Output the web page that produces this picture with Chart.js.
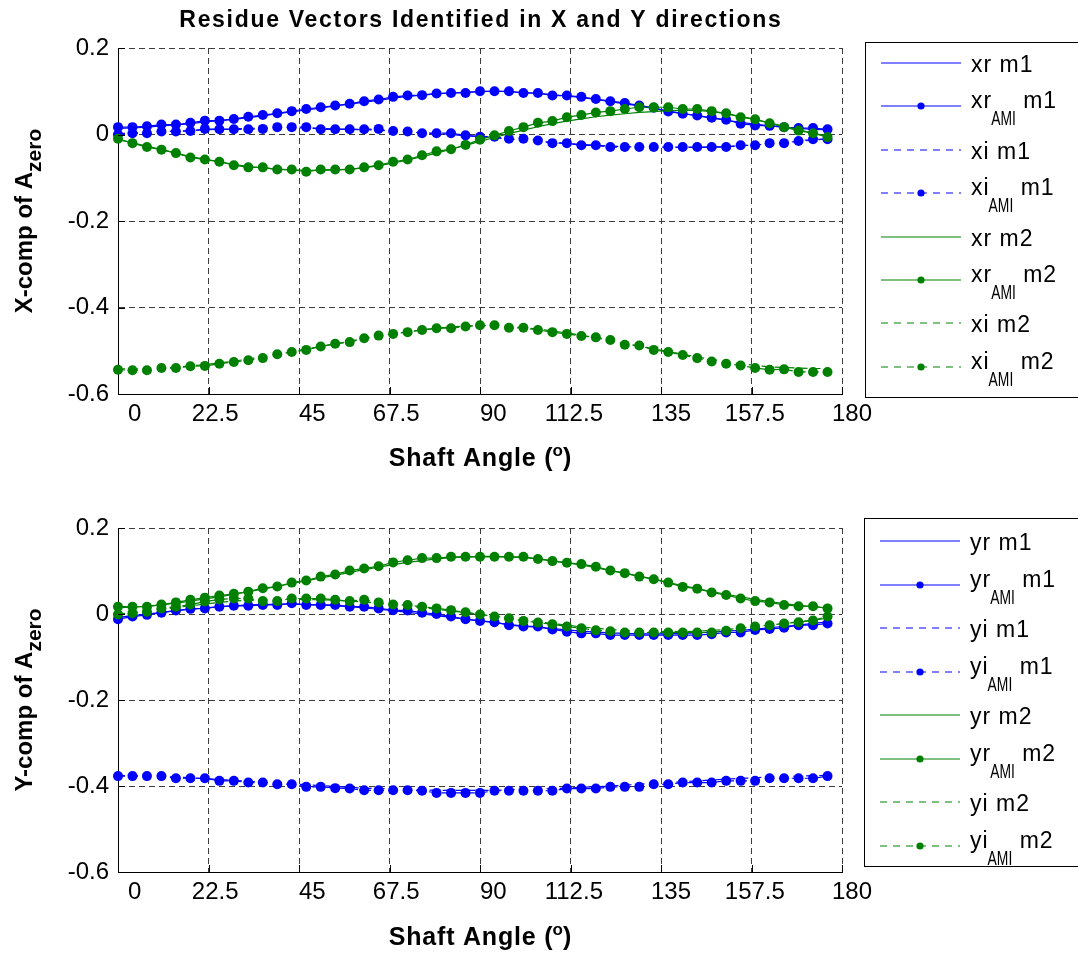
<!DOCTYPE html>
<html>
<head>
<meta charset="utf-8">
<title>Residue Vectors Identified in X and Y directions</title>
<script src="https://cdn.jsdelivr.net/npm/chart.js@4.4.1/dist/chart.umd.min.js"></script>
<style>
  html, body { margin: 0; padding: 0; background: #fff; }
  #wrap { position: relative; width: 1078px; height: 953px; overflow: hidden; }
  canvas { position: absolute; left: 0; }
</style>
</head>
<body>
<div id="wrap">
  <canvas id="xChart" width="1078" height="476" style="top:0px"></canvas>
  <canvas id="yChart" width="1078" height="477" style="top:476px"></canvas>
</div>
<script>
// shaft angle (deg) of each identification step
const angles = [0, 3.6, 7.2, 10.8, 14.4, 18, 21.6, 25.2, 28.8, 32.4, 36, 39.6, 43.2, 46.8, 50.4,
  54, 57.6, 61.2, 64.8, 68.4, 72, 75.6, 79.2, 82.8, 86.4, 90, 93.6, 97.2, 100.8, 104.4, 108,
  111.6, 115.2, 118.8, 122.4, 126, 129.6, 133.2, 136.8, 140.4, 144, 147.6, 151.2, 154.8,
  158.4, 162, 165.6, 169.2, 172.8, 176.4];

const xTicks = [0, 22.5, 45, 67.5, 90, 112.5, 135, 157.5, 180];
const xTickLabels = ['0', '22.5', '45', '67.5', '90', '112.5', '135', '157.5', '180'];
const yTicks = [-0.6, -0.4, -0.2, 0, 0.2];
const yTickLabels = ['-0.6', '-0.4', '-0.2', '0', '0.2'];

// X-direction residues
const xrM1 = [0.014, 0.015, 0.017, 0.020, 0.022, 0.025, 0.029, 0.032, 0.035, 0.039,
  0.043, 0.048, 0.052, 0.057, 0.061, 0.066, 0.070, 0.075, 0.079, 0.084,
  0.088, 0.091, 0.094, 0.096, 0.098, 0.099, 0.100, 0.099, 0.097, 0.095,
  0.092, 0.089, 0.085, 0.081, 0.076, 0.071, 0.066, 0.060, 0.054, 0.049,
  0.043, 0.038, 0.033, 0.028, 0.024, 0.020, 0.017, 0.014, 0.012, 0.011];
const xrAmiM1 = [0.017, 0.017, 0.019, 0.023, 0.023, 0.027, 0.032, 0.032, 0.036, 0.041,
  0.045, 0.049, 0.054, 0.059, 0.063, 0.067, 0.071, 0.077, 0.081, 0.087,
  0.090, 0.091, 0.095, 0.096, 0.096, 0.100, 0.100, 0.100, 0.096, 0.096,
  0.090, 0.090, 0.087, 0.082, 0.077, 0.073, 0.067, 0.062, 0.053, 0.048,
  0.044, 0.039, 0.034, 0.025, 0.021, 0.020, 0.017, 0.015, 0.015, 0.012];
const xiM1 = [0.002, 0.003, 0.005, 0.006, 0.008, 0.009, 0.011, 0.012, 0.013, 0.014,
  0.015, 0.015, 0.015, 0.015, 0.014, 0.013, 0.012, 0.011, 0.010, 0.008,
  0.006, 0.004, 0.002, 0.000, -0.003, -0.005, -0.008, -0.010, -0.013, -0.016,
  -0.018, -0.021, -0.023, -0.025, -0.027, -0.028, -0.029, -0.030, -0.030, -0.030,
  -0.030, -0.029, -0.028, -0.026, -0.024, -0.022, -0.019, -0.016, -0.013, -0.010];
const xiAmiM1 = [0.000, 0.003, 0.003, 0.007, 0.007, 0.008, 0.013, 0.012, 0.012, 0.012,
  0.013, 0.017, 0.017, 0.017, 0.012, 0.012, 0.012, 0.012, 0.013, 0.008,
  0.007, 0.003, 0.003, 0.003, -0.002, -0.005, -0.005, -0.010, -0.010, -0.014,
  -0.020, -0.020, -0.025, -0.025, -0.029, -0.029, -0.029, -0.029, -0.029, -0.029,
  -0.029, -0.029, -0.029, -0.025, -0.025, -0.020, -0.020, -0.015, -0.011, -0.011];
const xrM2 = [-0.012, -0.019, -0.027, -0.035, -0.043, -0.051, -0.057, -0.063, -0.069, -0.074,
  -0.077, -0.080, -0.082, -0.083, -0.083, -0.082, -0.080, -0.077, -0.072, -0.066,
  -0.059, -0.051, -0.043, -0.034, -0.025, -0.016, -0.007, 0.002, 0.010, 0.018,
  0.025, 0.031, 0.036, 0.041, 0.045, 0.048, 0.051, 0.053, 0.055, 0.056,
  0.056, 0.053, 0.048, 0.042, 0.035, 0.027, 0.019, 0.011, 0.003, -0.004];
const xrAmiM2 = [-0.010, -0.020, -0.029, -0.035, -0.043, -0.053, -0.058, -0.063, -0.071, -0.076,
  -0.076, -0.081, -0.081, -0.086, -0.081, -0.081, -0.081, -0.076, -0.071, -0.063,
  -0.058, -0.048, -0.039, -0.034, -0.024, -0.012, -0.002, 0.008, 0.017, 0.027,
  0.031, 0.040, 0.045, 0.051, 0.054, 0.059, 0.063, 0.063, 0.063, 0.059,
  0.059, 0.054, 0.049, 0.040, 0.035, 0.026, 0.017, 0.009, 0.003, -0.006];
const xiM2 = [-0.542, -0.542, -0.541, -0.540, -0.538, -0.535, -0.532, -0.528, -0.524, -0.519,
  -0.514, -0.508, -0.502, -0.496, -0.490, -0.484, -0.478, -0.472, -0.466, -0.461,
  -0.456, -0.452, -0.448, -0.445, -0.443, -0.442, -0.442, -0.444, -0.446, -0.450,
  -0.454, -0.459, -0.464, -0.470, -0.476, -0.483, -0.489, -0.496, -0.502, -0.508,
  -0.514, -0.520, -0.525, -0.530, -0.534, -0.537, -0.539, -0.540, -0.541, -0.541];
const xiAmiM2 = [-0.544, -0.545, -0.545, -0.540, -0.540, -0.536, -0.535, -0.530, -0.526, -0.522,
  -0.517, -0.508, -0.503, -0.498, -0.490, -0.484, -0.480, -0.471, -0.465, -0.461,
  -0.457, -0.452, -0.448, -0.448, -0.444, -0.441, -0.441, -0.447, -0.447, -0.452,
  -0.457, -0.461, -0.466, -0.469, -0.475, -0.486, -0.488, -0.498, -0.503, -0.510,
  -0.517, -0.525, -0.530, -0.534, -0.540, -0.544, -0.543, -0.549, -0.549, -0.549];

// Y-direction residues
const yrM1 = [-0.008, -0.004, 0.000, 0.004, 0.008, 0.011, 0.014, 0.017, 0.019, 0.021,
  0.022, 0.023, 0.023, 0.022, 0.021, 0.019, 0.017, 0.014, 0.011, 0.008,
  0.004, 0.000, -0.004, -0.008, -0.012, -0.016, -0.020, -0.024, -0.028, -0.031,
  -0.034, -0.037, -0.040, -0.042, -0.044, -0.045, -0.046, -0.046, -0.046, -0.045,
  -0.044, -0.042, -0.040, -0.038, -0.035, -0.032, -0.029, -0.026, -0.022, -0.018];
const yrAmiM1 = [-0.012, -0.006, -0.002, 0.003, 0.008, 0.012, 0.013, 0.017, 0.019, 0.019,
  0.021, 0.021, 0.025, 0.021, 0.021, 0.021, 0.017, 0.017, 0.013, 0.009,
  0.008, 0.003, 0.000, -0.006, -0.012, -0.016, -0.019, -0.026, -0.029, -0.029,
  -0.036, -0.041, -0.045, -0.045, -0.049, -0.049, -0.049, -0.049, -0.049, -0.049,
  -0.049, -0.047, -0.043, -0.043, -0.037, -0.035, -0.032, -0.026, -0.026, -0.022];
const yiM1 = [-0.376, -0.376, -0.377, -0.378, -0.379, -0.381, -0.383, -0.385, -0.387, -0.389,
  -0.391, -0.393, -0.395, -0.397, -0.399, -0.401, -0.403, -0.405, -0.406, -0.407,
  -0.408, -0.409, -0.410, -0.410, -0.410, -0.410, -0.410, -0.409, -0.408, -0.407,
  -0.406, -0.405, -0.403, -0.402, -0.400, -0.398, -0.396, -0.394, -0.392, -0.390,
  -0.388, -0.386, -0.384, -0.382, -0.381, -0.379, -0.378, -0.377, -0.376, -0.375];
const yiAmiM1 = [-0.377, -0.377, -0.377, -0.377, -0.382, -0.382, -0.382, -0.388, -0.388, -0.392,
  -0.392, -0.396, -0.396, -0.402, -0.402, -0.405, -0.406, -0.410, -0.410, -0.410,
  -0.410, -0.411, -0.416, -0.416, -0.416, -0.416, -0.411, -0.411, -0.411, -0.411,
  -0.411, -0.406, -0.406, -0.406, -0.402, -0.402, -0.402, -0.396, -0.396, -0.392,
  -0.392, -0.392, -0.388, -0.388, -0.388, -0.382, -0.382, -0.382, -0.382, -0.377];
const yrM2 = [0.015, 0.016, 0.018, 0.021, 0.025, 0.030, 0.035, 0.040, 0.046, 0.052,
  0.058, 0.064, 0.071, 0.077, 0.084, 0.090, 0.097, 0.103, 0.109, 0.115,
  0.120, 0.124, 0.128, 0.131, 0.133, 0.134, 0.134, 0.133, 0.131, 0.128,
  0.124, 0.119, 0.114, 0.108, 0.101, 0.095, 0.088, 0.081, 0.073, 0.066,
  0.059, 0.052, 0.046, 0.040, 0.034, 0.029, 0.024, 0.020, 0.017, 0.014];
const yrAmiM2 = [0.017, 0.017, 0.017, 0.022, 0.027, 0.033, 0.038, 0.043, 0.047, 0.052,
  0.060, 0.064, 0.073, 0.078, 0.087, 0.092, 0.101, 0.106, 0.111, 0.120,
  0.125, 0.130, 0.130, 0.133, 0.133, 0.133, 0.133, 0.133, 0.133, 0.128,
  0.123, 0.119, 0.116, 0.110, 0.101, 0.095, 0.087, 0.081, 0.073, 0.063,
  0.059, 0.050, 0.044, 0.036, 0.030, 0.027, 0.021, 0.018, 0.018, 0.013];
const yiM2 = [0.000, 0.003, 0.007, 0.011, 0.015, 0.019, 0.023, 0.027, 0.030, 0.032,
  0.033, 0.034, 0.034, 0.034, 0.033, 0.032, 0.030, 0.028, 0.025, 0.022,
  0.019, 0.015, 0.011, 0.007, 0.003, -0.001, -0.005, -0.010, -0.014, -0.018,
  -0.022, -0.026, -0.030, -0.033, -0.036, -0.038, -0.040, -0.041, -0.041, -0.041,
  -0.040, -0.038, -0.036, -0.033, -0.030, -0.026, -0.022, -0.018, -0.014, -0.010];
const yiAmiM2 = [-0.001, 0.002, 0.005, 0.013, 0.017, 0.022, 0.029, 0.034, 0.036, 0.036,
  0.030, 0.030, 0.036, 0.036, 0.036, 0.033, 0.030, 0.033, 0.027, 0.022,
  0.021, 0.017, 0.013, 0.009, 0.004, -0.001, -0.006, -0.010, -0.016, -0.020,
  -0.024, -0.029, -0.033, -0.038, -0.040, -0.043, -0.043, -0.043, -0.043, -0.043,
  -0.043, -0.043, -0.039, -0.033, -0.029, -0.026, -0.022, -0.019, -0.015, -0.006];

const xNames = ['xr m1', 'xr_AMI m1', 'xi m1', 'xi_AMI m1', 'xr m2', 'xr_AMI m2', 'xi m2', 'xi_AMI m2'];
const yNames = ['yr m1', 'yr_AMI m1', 'yi m1', 'yi_AMI m1', 'yr m2', 'yr_AMI m2', 'yi m2', 'yi_AMI m2'];

const BLUE = '#0000ff';
const GREEN = '#008000';
const FONT = "'Liberation Sans', Arial, Helvetica, sans-serif";

function makeDatasets(names, valueSets) {
  return names.map((name, k) => {
    const color = k < 4 ? BLUE : GREEN;
    const ami = name.indexOf('_AMI') >= 0;
    const dashed = name[1] === 'i';
    return {
      label: name,
      data: angles.map((a, i) => ({ x: a, y: valueSets[k][i] })),
      borderColor: color,
      backgroundColor: color,
      borderWidth: 1.2,
      borderDash: dashed ? [7, 6] : [],
      pointRadius: ami ? 5 : 0,
      pointBorderWidth: 0,
      pointBackgroundColor: color,
      tension: 0,
      clip: false,
      order: names.length - k
    };
  });
}

// draw a run of text pieces (sub/superscripts) left to right
function drawParts(ctx, parts, x, y, align) {
  const widths = parts.map(p => {
    ctx.font = p.font;
    ctx.letterSpacing = (p.ls || 0) + 'px';
    return ctx.measureText(p.text).width * (p.sx || 1) - (p.ls || 0);
  });
  const total = widths.reduce((s, w) => s + w, 0);
  let cx = align === 'center' ? x - total / 2 : x;
  parts.forEach((p, i) => {
    ctx.save();
    ctx.font = p.font;
    ctx.letterSpacing = (p.ls || 0) + 'px';
    ctx.translate(cx, y + (p.dy || 0));
    ctx.scale(p.sx || 1, 1);
    ctx.fillText(p.text, 0, 0);
    ctx.restore();
    cx += widths[i];
  });
}

function legendParts(name) {
  if (name.indexOf('_AMI') < 0) {
    return [{ text: name, font: '23px ' + FONT, ls: 1, dy: 9 }];
  }
  const [head, tail] = name.split('_AMI');
  return [
    { text: head, font: '23px ' + FONT, ls: 1, dy: 2 },
    { text: 'AMI', font: '21px ' + FONT, sx: 0.66, dy: 19 },
    { text: tail, font: '23px ' + FONT, ls: 1, dy: 2 }
  ];
}

const decorPlugin = {
  id: 'decor',
  afterDraw(chart, args, opts) {
    const ctx = chart.ctx;
    const area = chart.chartArea;
    const xs = chart.scales.x, ys = chart.scales.y;
    ctx.save();
    ctx.fillStyle = '#000';
    ctx.textAlign = 'left';
    ctx.textBaseline = 'alphabetic';

    // inward tick marks on the two drawn axes
    ctx.strokeStyle = '#000';
    ctx.lineWidth = 1;
    ctx.setLineDash([]);
    ctx.beginPath();
    yTicks.forEach(v => {
      const py = Math.round(ys.getPixelForValue(v)) + 0.5;
      ctx.moveTo(area.left, py); ctx.lineTo(area.left + 7, py);
    });
    xTicks.forEach(v => {
      const px = Math.round(xs.getPixelForValue(v)) + 0.5;
      ctx.moveTo(px, area.bottom); ctx.lineTo(px, area.bottom - 7);
    });
    ctx.stroke();

    const midX = (area.left + area.right) / 2;
    if (opts.title) {
      drawParts(ctx, [{ text: opts.title, font: 'bold 23px ' + FONT, ls: 1.7 }], midX, 27, 'center');
    }
    // x-axis title with degree superscript
    drawParts(ctx, [
      { text: 'Shaft Angle (', font: 'bold 25px ' + FONT, ls: 0.8 },
      { text: 'o', font: 'bold 17px ' + FONT, dy: -10 },
      { text: ')', font: 'bold 25px ' + FONT }
    ], midX, opts.xTitleY, 'center');

    // y-axis title, rotated
    ctx.save();
    ctx.translate(32, (area.top + area.bottom) / 2);
    ctx.rotate(-Math.PI / 2);
    drawParts(ctx, [
      { text: opts.yTitle, font: 'bold 24px ' + FONT },
      { text: 'zero', font: 'bold 21px ' + FONT, dy: 9 }
    ], 0, 0, 'center');
    ctx.restore();

    // legend box
    const lg = opts.legend;
    ctx.fillStyle = '#fff';
    ctx.fillRect(lg.x, lg.y, lg.w, lg.h);
    ctx.strokeStyle = '#000';
    ctx.strokeRect(lg.x + 0.5, lg.y + 0.5, lg.w, lg.h);
    chart.data.datasets.forEach((ds, k) => {
      const ry = Math.round(lg.rowTop + k * lg.rowGap);
      ctx.strokeStyle = ds.borderColor;
      ctx.lineWidth = 1;
      ctx.setLineDash(ds.borderDash);
      ctx.beginPath();
      ctx.moveTo(lg.x + 16, ry);
      ctx.lineTo(lg.x + 96, ry);
      ctx.stroke();
      ctx.setLineDash([]);
      if (ds.pointRadius > 0) {
        ctx.fillStyle = ds.borderColor;
        ctx.beginPath();
        ctx.arc(lg.x + 56, ry, 3.6, 0, Math.PI * 2);
        ctx.fill();
      }
      ctx.fillStyle = '#000';
      drawParts(ctx, legendParts(ds.label), lg.x + 106, ry, 'left');
    });
    ctx.restore();
  }
};

function makeChart(id, names, valueSets, extra) {
  return new Chart(document.getElementById(id), {
    type: 'line',
    data: { datasets: makeDatasets(names, valueSets) },
    options: {
      responsive: false,
      animation: false,
      events: [],
      layout: { padding: { top: extra.top, right: 236, bottom: 0, left: 0 } },
      scales: {
        x: {
          type: 'linear',
          min: 0,
          max: 180,
          afterBuildTicks: s => { s.ticks = xTicks.map(v => ({ value: v })); },
          afterFit: s => { s.height = extra.xAxisHeight; },
          ticks: {
            autoSkip: false,
            maxRotation: 0,
            padding: 6,
            color: '#000',
            font: { family: FONT, size: 24 },
            callback: v => xTickLabels[xTicks.indexOf(v)].padStart(6, ' ')
          },
          grid: { color: '#3c3c3c', lineWidth: 1, drawTicks: false },
          border: { display: true, color: '#000', width: 1, dash: [6, 4] }
        },
        y: {
          type: 'linear',
          min: -0.6,
          max: 0.2,
          afterBuildTicks: s => { s.ticks = yTicks.map(v => ({ value: v })); },
          afterFit: s => { s.width = 118; },
          ticks: {
            padding: 9,
            color: '#000',
            font: { family: FONT, size: 24 },
            callback: v => yTickLabels[yTicks.indexOf(v)]
          },
          grid: { color: '#3c3c3c', lineWidth: 1, drawTicks: false },
          border: { display: true, color: '#000', width: 1, dash: [6, 4] }
        }
      },
      plugins: {
        legend: { display: false },
        tooltip: { enabled: false },
        decor: extra.decor
      }
    },
    plugins: [decorPlugin]
  });
}

makeChart('xChart', xNames,
  [xrM1, xrAmiM1, xiM1, xiAmiM1, xrM2, xrAmiM2, xiM2, xiAmiM2],
  {
    top: 48, xAxisHeight: 82,
    decor: {
      title: 'Residue Vectors Identified in X and Y directions',
      yTitle: 'X-comp of A',
      xTitleY: 466,
      legend: { x: 865, y: 42, w: 230, h: 355, rowTop: 63, rowGap: 43.4 }
    }
  });

makeChart('yChart', yNames,
  [yrM1, yrAmiM1, yiM1, yiAmiM1, yrM2, yrAmiM2, yiM2, yiAmiM2],
  {
    top: 52, xAxisHeight: 81,
    decor: {
      title: '',
      yTitle: 'Y-comp of A',
      xTitleY: 469,
      legend: { x: 864, y: 42, w: 230, h: 348, rowTop: 65, rowGap: 43.5 }
    }
  });
</script>
</body>
</html>
